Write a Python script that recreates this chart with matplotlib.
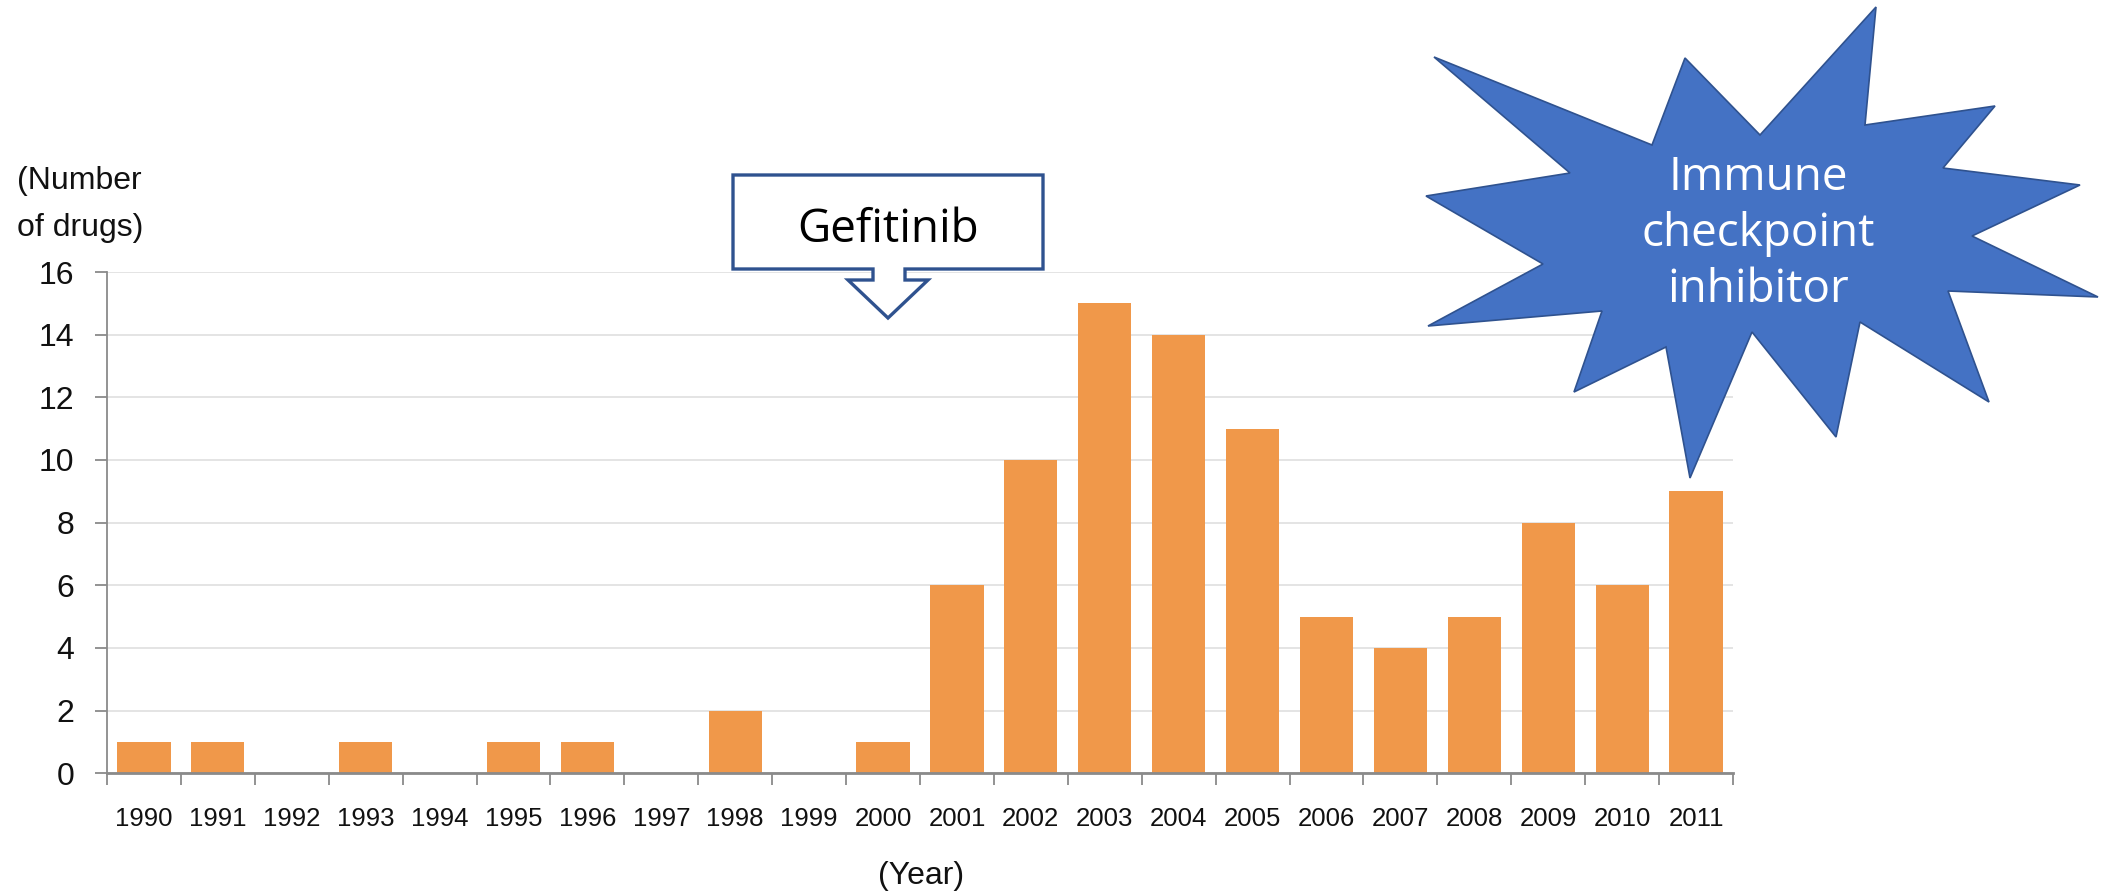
import matplotlib
matplotlib.use("Agg")
import matplotlib.pyplot as plt
from matplotlib.patches import Polygon

# Number of new drugs per year
years = ["1990", "1991", "1992", "1993", "1994", "1995", "1996", "1997", "1998",
         "1999", "2000", "2001", "2002", "2003", "2004", "2005", "2006", "2007",
         "2008", "2009", "2010", "2011"]
counts = [1, 1, 0, 1, 0, 1, 1, 0, 2, 0, 1, 6, 10, 15, 14, 11, 5, 4, 5, 8, 6, 9]
yticks = [0, 2, 4, 6, 8, 10, 12, 14, 16]

W, H = 2116, 892
BAR = "#F0984A"
GRID = "#E2E2E2"
AXIS = "#8A8A8A"
INK = "#111111"
BLUE = "#4472C4"
BLUE_EDGE = "#2F528F"
SANS = ["Liberation Sans", "DejaVu Sans"]
NARROW = ["Liberation Sans Narrow", "Liberation Sans", "DejaVu Sans"]
CALLOUT = ["Open Sans", "Noto Sans", "DejaVu Sans"]

fig = plt.figure(figsize=(W / 100, H / 100), dpi=100)
fig.patch.set_facecolor("white")

# main bar chart, placed in pixel units
x0, x1 = 107, 1733
y_top, y_zero = 272, 773.3
ax = fig.add_axes([x0 / W, (H - y_zero) / H, (x1 - x0) / W, (y_zero - y_top) / H])
pos = list(range(len(years)))
ax.bar(pos, counts, width=0.72, color=BAR, zorder=3)
ax.set_xlim(-0.5, len(years) - 0.5)
ax.set_ylim(0, 16)
ax.set_yticks(yticks)
ax.set_yticklabels([str(v) for v in yticks], fontsize=23, family=SANS, color=INK)
ax.set_xticks(pos)
ax.set_xticklabels(years, fontsize=18.5, family=NARROW, color=INK)
ax.set_xticks([p - 0.5 for p in pos] + [len(years) - 0.5], minor=True)
ax.tick_params(axis="x", which="major", length=0, pad=24)
ax.tick_params(axis="x", which="minor", length=8.5, width=1.3, color=AXIS)
ax.tick_params(axis="y", length=8.5, width=1.3, color=AXIS, pad=15)
ax.yaxis.grid(True, color=GRID, linewidth=1.3, zorder=0)
ax.set_axisbelow(True)
for s in ("top", "right"):
    ax.spines[s].set_visible(False)
ax.spines["left"].set_color(AXIS)
ax.spines["left"].set_linewidth(1.3)
ax.spines["bottom"].set_color(AXIS)
ax.spines["bottom"].set_linewidth(2.0)
ax.spines["bottom"].set_zorder(4)

# overlay in pixel coordinates for titles and callouts
ov = fig.add_axes([0, 0, 1, 1], zorder=5)
ov.set_xlim(0, W)
ov.set_ylim(H, 0)
ov.axis("off")
ov.patch.set_alpha(0)

ov.text(17, 181, "(Number", fontsize=23, family=SANS, color=INK, ha="left", va="center")
ov.text(17, 228, "of drugs)", fontsize=23, family=SANS, color=INK, ha="left", va="center")
ov.text(921, 876, "(Year)", fontsize=23, family=SANS, color=INK, ha="center", va="center")

# Gefitinib down-arrow callout
callout = [(733, 175), (1043, 175), (1043, 269), (905, 269), (905, 280), (928, 280),
           (888, 318), (848, 280), (873, 280), (873, 269), (733, 269)]
ov.add_patch(Polygon(callout, closed=True, facecolor="white", edgecolor=BLUE_EDGE,
                     linewidth=2.4, joinstyle="miter"))
ov.text(888, 242, "Gefitinib", fontsize=33, family=CALLOUT, color="black",
        ha="center", va="baseline")

# starburst
star = [(1434, 57), (1652, 145), (1685, 58), (1760, 135), (1876, 7), (1865, 125),
        (1995, 106), (1943, 168), (2080, 185), (1972, 236), (2098, 297), (1948, 291),
        (1989, 402), (1860, 322), (1836, 437), (1752, 332), (1690, 478), (1666, 347),
        (1574, 392), (1602, 311), (1428, 326), (1543, 264), (1426, 196), (1570, 173)]
ov.add_patch(Polygon(star, closed=True, facecolor=BLUE, edgecolor=BLUE_EDGE,
                     linewidth=1.2, joinstyle="miter"))
ov.text(1758, 234, "Immune\ncheckpoint\ninhibitor", fontsize=33, family=CALLOUT,
        color="white", ha="center", va="center", linespacing=1.3)

fig.savefig("out.png", dpi=100, facecolor="white")
